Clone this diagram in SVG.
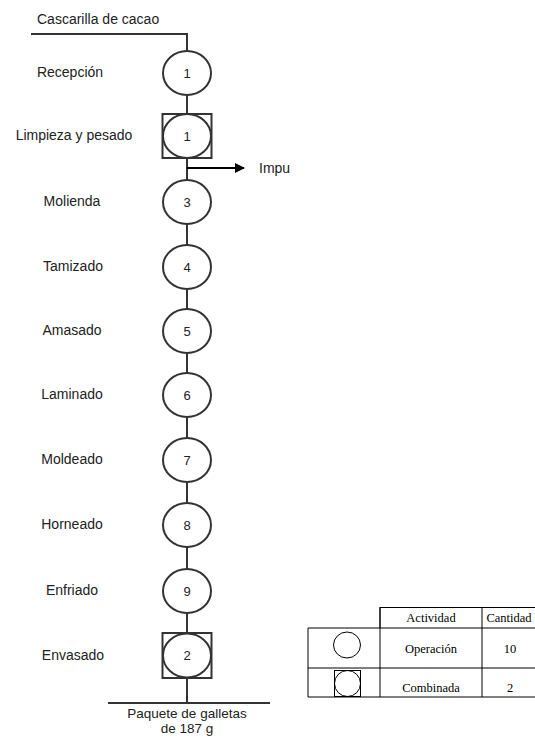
<svg xmlns="http://www.w3.org/2000/svg" width="535" height="738" viewBox="0 0 535 738">
<style>
.ln{stroke:#333;stroke-width:2;fill:none}
.nd ellipse{fill:#fff;stroke:#333;stroke-width:2}
.nd rect{fill:#fff;stroke:#333;stroke-width:2}
.num{font-family:"Liberation Sans",Arial,sans-serif;font-size:13px;fill:#222;text-anchor:middle}
.lbl{font-family:"Liberation Sans",Arial,sans-serif;font-size:14px;fill:#222;text-anchor:middle}
.tb{stroke:#000;stroke-width:1;fill:none}
.tt{font-family:"Liberation Serif","Times New Roman",serif;font-size:12.5px;fill:#000;text-anchor:middle}
</style>
<defs>
<marker id="ah" markerWidth="10" markerHeight="10" refX="9" refY="5" orient="auto" markerUnits="userSpaceOnUse">
<path d="M0,0 L10,5 L0,10 z" fill="#000"/>
</marker>
</defs>
<g id="connectors">
<polyline class="ln" points="31,34 187,34 187,703"/>
<line class="ln" x1="108" y1="703" x2="270" y2="703"/>
<line x1="187" y1="168" x2="244" y2="168" stroke="#000" stroke-width="2" marker-end="url(#ah)"/>
</g>
<text class="lbl" x="37" y="24" style="text-anchor:start">Cascarilla de cacao</text>
<text class="lbl" x="259" y="173" style="text-anchor:start">Impu</text>
<g id="n1" class="nd"><ellipse cx="187" cy="73" rx="24" ry="22"/><text class="num" x="187" y="77.5">1</text><text class="lbl" x="70" y="77">Recepción</text></g>
<g id="n2" class="nd"><rect x="162.5" y="114" width="49" height="44"/><ellipse cx="187" cy="136" rx="24" ry="22"/><text class="num" x="187" y="140.5">1</text><text class="lbl" x="74" y="140">Limpieza y pesado</text></g>
<g id="n3" class="nd"><ellipse cx="187" cy="202" rx="24" ry="22"/><text class="num" x="187" y="206.5">3</text><text class="lbl" x="72" y="206">Molienda</text></g>
<g id="n4" class="nd"><ellipse cx="187" cy="267" rx="24" ry="22"/><text class="num" x="187" y="271.5">4</text><text class="lbl" x="73" y="271">Tamizado</text></g>
<g id="n5" class="nd"><ellipse cx="187" cy="331" rx="24" ry="22"/><text class="num" x="187" y="335.5">5</text><text class="lbl" x="72" y="335">Amasado</text></g>
<g id="n6" class="nd"><ellipse cx="187" cy="395" rx="24" ry="22"/><text class="num" x="187" y="399.5">6</text><text class="lbl" x="72" y="399">Laminado</text></g>
<g id="n7" class="nd"><ellipse cx="187" cy="460" rx="24" ry="22"/><text class="num" x="187" y="464.5">7</text><text class="lbl" x="72" y="464">Moldeado</text></g>
<g id="n8" class="nd"><ellipse cx="187" cy="525" rx="24" ry="22"/><text class="num" x="187" y="529.5">8</text><text class="lbl" x="72" y="529">Horneado</text></g>
<g id="n9" class="nd"><ellipse cx="187" cy="591" rx="24" ry="22"/><text class="num" x="187" y="595.5">9</text><text class="lbl" x="72" y="595">Enfriado</text></g>
<g id="n10" class="nd"><rect x="162.5" y="633" width="49" height="45"/><ellipse cx="187" cy="655.5" rx="24" ry="22"/><text class="num" x="187" y="660">2</text><text class="lbl" x="73" y="660">Envasado</text></g>
<text class="lbl" x="187" y="718" style="font-size:13.5px">Paquete de galletas</text>
<text class="lbl" x="187" y="733" style="font-size:13.5px">de 187 g</text>
<g id="table">
<polyline class="tb" points="380,628 380,607.5 535,607.5"/>
<line class="tb" x1="308" y1="628" x2="535" y2="628"/>
<line class="tb" x1="308" y1="668" x2="535" y2="668"/>
<line class="tb" x1="308" y1="697" x2="535" y2="697"/>
<line class="tb" x1="308" y1="628" x2="308" y2="697"/>
<line class="tb" x1="380" y1="607" x2="380" y2="697"/>
<line class="tb" x1="482" y1="607" x2="482" y2="697"/>
<ellipse class="tb" cx="347" cy="645" rx="13.5" ry="13"/>
<rect class="tb" x="334.5" y="670.5" width="26" height="26"/>
<ellipse class="tb" cx="347.5" cy="683.5" rx="13" ry="13"/>
<text class="tt" x="431" y="622">Actividad</text>
<text class="tt" x="509" y="622">Cantidad</text>
<text class="tt" x="431" y="653">Operación</text>
<text class="tt" x="510" y="653">10</text>
<text class="tt" x="431" y="692">Combinada</text>
<text class="tt" x="510" y="692">2</text>
</g>
</svg>
